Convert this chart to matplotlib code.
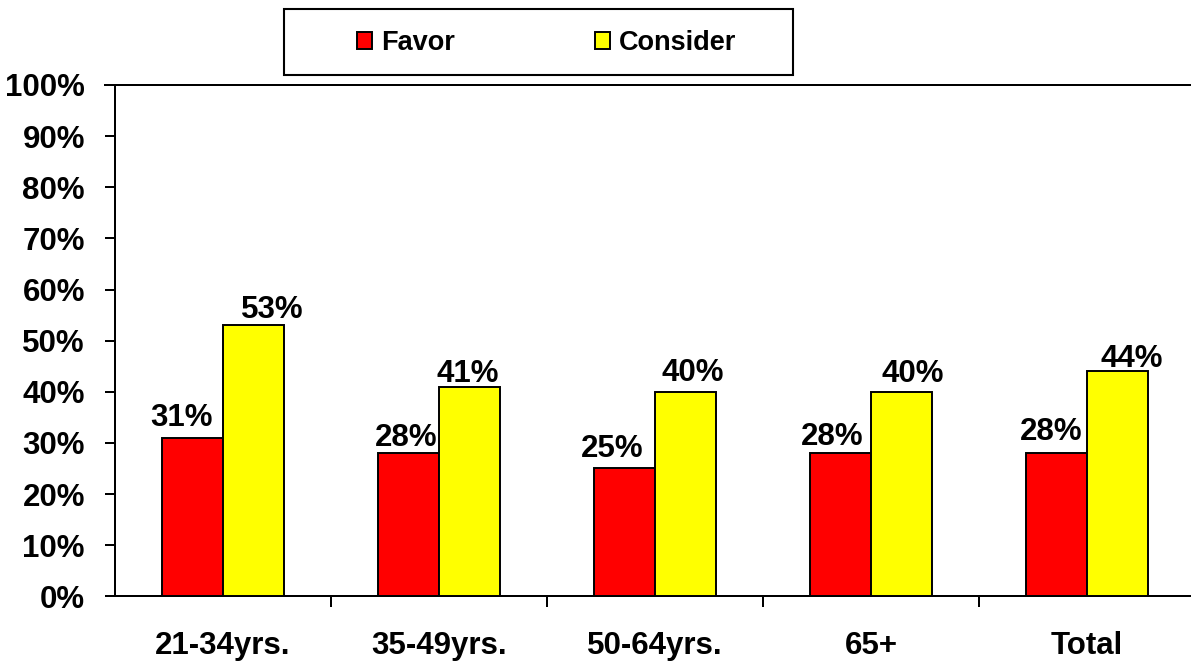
import matplotlib
matplotlib.use("Agg")
import matplotlib.pyplot as plt
import numpy as np
from matplotlib import font_manager
from matplotlib.patches import Rectangle
from matplotlib.ticker import FixedLocator, FuncFormatter

# ---- data ----
categories = ["21-34yrs.", "35-49yrs.", "50-64yrs.", "65+", "Total"]
favor = [31, 28, 25, 28, 28]
consider = [53, 41, 40, 40, 44]
series_names = ["Favor", "Consider"]
y_ticks = list(range(0, 101, 10))

# ---- style ----
colors = ["#FF0000", "#FFFF00"]
# per-label nudges (pixels) for the value labels: horizontal, and gap above bar
favor_dx = [-11, -2, -12, -8, -5]
favor_dy = [12, 7, 11, 7.7, 12.7]
consider_dx = [18.5, -1.5, 7, 11, 14]
consider_dy = [7.6, 5, 11, 9.3, 4.3]

W, H, DPI = 1191, 662, 100
PX = 72.0 / DPI  # points per pixel

plt.rcParams["font.family"] = ["Liberation Sans", "DejaVu Sans"]
plt.rcParams["font.weight"] = "bold"

installed = {f.name for f in font_manager.fontManager.ttflist}
legend_family = "Liberation Sans Narrow" if "Liberation Sans Narrow" in installed else "Liberation Sans"
legend_size = 22 if legend_family == "Liberation Sans Narrow" else 19.5

fig = plt.figure(figsize=(W / DPI, H / DPI), dpi=DPI)
ax_left, ax_right, ax_top, ax_bottom = 115, 1195, 85, 596.3
ax = fig.add_axes([ax_left / W, (H - ax_bottom) / H,
                   (ax_right - ax_left) / W, (ax_bottom - ax_top) / H])

x = np.arange(len(categories))
bw = 0.2824
lw_axis = 2 * PX
bars_f = ax.bar(x - bw / 2, favor, bw, color=colors[0], edgecolor="black",
                linewidth=1.4, label=series_names[0], zorder=3)
bars_c = ax.bar(x + bw / 2, consider, bw, color=colors[1], edgecolor="black",
                linewidth=1.4, label=series_names[1], zorder=3)

for bars, vals, dxs, dys in [(bars_f, favor, favor_dx, favor_dy),
                             (bars_c, consider, consider_dx, consider_dy)]:
    for b, v, dx, dy in zip(bars, vals, dxs, dys):
        ax.annotate(f"{v}%", (b.get_x() + b.get_width() / 2, v),
                    xytext=(dx * PX, dy * PX), textcoords="offset points",
                    ha="center", va="baseline", fontsize=22.5, fontweight="bold")

ax.set_xlim(-0.5, len(categories) - 0.5)
ax.set_ylim(0, 100)
ax.set_yticks(y_ticks)
ax.yaxis.set_major_formatter(FuncFormatter(lambda v, p: f"{int(v)}%"))
ax.tick_params(axis="y", direction="out", length=10 * PX, width=lw_axis,
               pad=20 * PX, labelsize=22.5)

ax.set_xticks(x)
ax.set_xticklabels(categories)
ax.xaxis.set_minor_locator(FixedLocator(np.arange(0.5, len(categories) - 0.5, 1.0)))
ax.tick_params(axis="x", which="major", length=0, pad=35 * PX, labelsize=22.5)
ax.tick_params(axis="x", which="minor", direction="out", length=11 * PX, width=lw_axis)
for lab in ax.get_xticklabels() + ax.get_yticklabels():
    lab.set_fontweight("bold")

ax.spines["right"].set_visible(False)
for s in ["left", "bottom", "top"]:
    ax.spines[s].set_linewidth(lw_axis)
ax.spines["top"].set_bounds(-0.5 - 10 / 216, len(categories) - 0.5)
ax.spines["top"].set_clip_on(False)

# legend: frame drawn as a figure rectangle, entries placed inside it
frame = Rectangle((284 / W, (H - 75) / H), 509 / W, 66 / H, transform=fig.transFigure,
                  facecolor="white", edgecolor="black", linewidth=1.5)
fig.patches.append(frame)
fs_px = legend_size / PX
leg = fig.legend(handles=[bars_f, bars_c], labels=series_names, ncol=2,
                 loc="center left", bbox_to_anchor=(357 / W, (H - 43) / H),
                 frameon=False, borderpad=0, borderaxespad=0,
                 handlelength=15 / fs_px, handleheight=15 / fs_px,
                 handletextpad=9 / fs_px, columnspacing=140 / fs_px,
                 prop={"family": legend_family, "weight": "bold", "size": legend_size})

fig.savefig("out.png", dpi=DPI)
